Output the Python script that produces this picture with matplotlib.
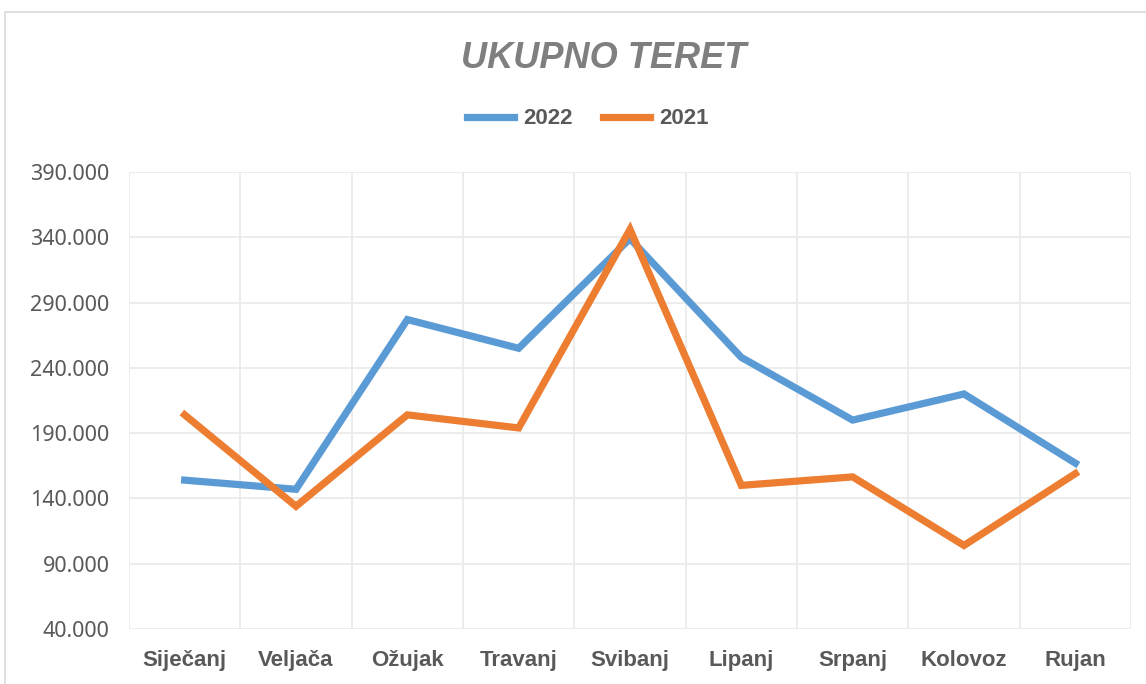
import matplotlib.pyplot as plt
from matplotlib.patches import Rectangle
from matplotlib.ticker import FuncFormatter

months = ['Siječanj', 'Veljača', 'Ožujak', 'Travanj', 'Svibanj',
          'Lipanj', 'Srpanj', 'Kolovoz', 'Rujan']
teret_2022 = [154000, 147000, 277000, 255000, 339000, 248000, 200000, 220000, 167000]
teret_2021 = [204000, 134000, 204000, 194000, 346000, 150000, 156500, 104000, 159000]
y_ticks = [40000, 90000, 140000, 190000, 240000, 290000, 340000, 390000]

bold_font = ['Liberation Sans', 'DejaVu Sans']

fig = plt.figure(figsize=(11.46, 6.84), dpi=100)
# rub grafikona
fig.patches.append(Rectangle((5 / 1146, -0.05), 1.1, 1 - 12 / 684 + 0.05,
                             transform=fig.transFigure, fill=False,
                             edgecolor='#d9d9d9', linewidth=1.2))

ax = fig.add_axes([129 / 1146, 1 - 629 / 684, 1002 / 1146, 457 / 684])
x = list(range(len(months)))
ax.plot(x, teret_2022, color='#5b9bd5', linewidth=5.2, label='2022',
        solid_joinstyle='miter')
ax.plot(x, teret_2021, color='#ed7d31', linewidth=5.2, label='2021',
        solid_joinstyle='miter')

ax.set_xlim(-0.5, len(months) - 0.5)
ax.set_ylim(y_ticks[0], y_ticks[-1])
ax.set_yticks(y_ticks)
ax.yaxis.set_major_formatter(FuncFormatter(lambda v, p: f'{int(v):,}'.replace(',', '.')))
ax.set_xticks(x)
ax.set_xticklabels(months, fontweight='bold', fontsize=16, color='#595959', family=bold_font)
ax.set_xticks([i - 0.5 for i in range(len(months) + 1)], minor=True)
ax.grid(True, axis='y', color='#ebebeb', linewidth=1.3)
ax.grid(True, axis='x', which='minor', color='#ebebeb', linewidth=1.3)
ax.set_axisbelow(True)
for s in ax.spines.values():
    s.set_visible(False)
ax.tick_params(axis='both', which='both', length=0)
ax.tick_params(axis='x', pad=15)
ax.tick_params(axis='y', pad=14, labelsize=15.5, labelcolor='#595959',
               labelfontfamily='Noto Sans')

fig.text(0.527, 1 - 58 / 684, 'UKUPNO TERET', ha='center', va='center', fontsize=26,
         fontweight='bold', fontstyle='italic', color='#7f7f7f', family=bold_font)

fig.legend(loc='center', bbox_to_anchor=(0.513, 1 - 119 / 684), ncol=2, frameon=False,
           prop={'family': bold_font, 'weight': 'bold', 'size': 16},
           handlelength=2.1, columnspacing=1.4, handletextpad=0.4, labelcolor='#595959')

fig.savefig('out.png', dpi=100)
